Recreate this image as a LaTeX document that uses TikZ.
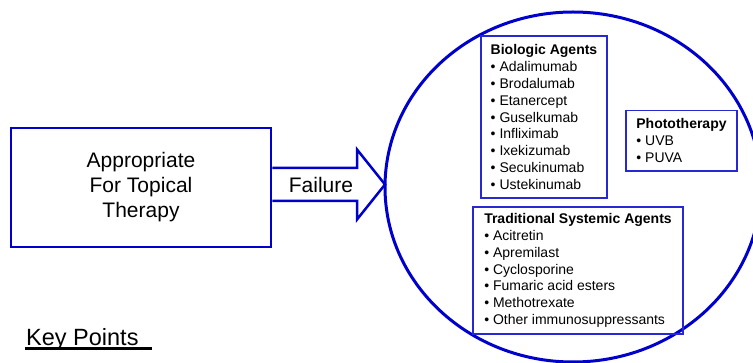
\documentclass[tikz,border=0pt]{standalone}
\usepackage{fontspec}
\setmainfont{Liberation Sans}
\usetikzlibrary{calc}
\definecolor{frameblue}{RGB}{0,0,204}
\definecolor{boxblue}{RGB}{40,40,210}
\begin{document}
\begin{tikzpicture}[x=1pt,y=-1pt,
  bigtext/.style={font=\fontsize{21}{25}\selectfont},
  smalltext/.style={font=\fontsize{14}{16.8}\selectfont},
  startbox/.style={draw=frameblue, line width=2.7pt, minimum width=260pt,
    minimum height=119pt, align=center, inner sep=0pt, bigtext},
  groupbox/.style={draw=boxblue, line width=1.4pt, align=left,
    inner sep=0pt, smalltext},
  blockarrow/.style={draw=frameblue, line width=2.5pt, line join=miter},
]
\path[use as bounding box, clip] (0,0) rectangle (753,363);
\fill[white] (0,0) rectangle (753,363);

% starting condition
\node[startbox] (topical) at (141,187.5) {Appropriate\\For Topical\\Therapy};

% large outline holding the treatment options
\draw[frameblue, line width=3pt] (573,187) ellipse [x radius=188, y radius=175];
\coordinate (tip) at (385,184.5);

% block arrow from the box to the outline
\draw[blockarrow] (topical.east |- 0,168) -- ($(tip)+(-28,-16.5)$)
  -- ($(tip)+(-28,-35)$) -- (tip) -- ($(tip)+(-28,35)$)
  -- ($(tip)+(-28,16.5)$) -- (topical.east |- 0,201);
\node[bigtext] (failure) at (321,185) {Failure};

% treatment groups
\node[groupbox, minimum width=126, minimum height=162] (bio) at (544,117)
  {\textbf{Biologic Agents}\\• Adalimumab\\• Brodalumab\\• Etanercept\\• Guselkumab\\• Infliximab\\• Ixekizumab\\• Secukinumab\\• Ustekinumab};
\node[groupbox, minimum width=111, minimum height=60.5] (photo) at (681.5,140.75)
  {\textbf{Phototherapy}\\• UVB\\• PUVA};
\node[groupbox, minimum width=210, minimum height=127] (trad) at (578,270.5)
  {\textbf{Traditional Systemic Agents}\\• Acitretin\\• Apremilast\\• Cyclosporine\\• Fumaric acid esters\\• Methotrexate\\• Other immunosuppressants};

% heading with underline
\node[anchor=base west, font=\fontsize{23.5}{28}\selectfont, inner sep=0pt] (keypts) at (26,345.5) {Key Points};
\draw[line width=2.2pt] ($(keypts.base west)+(-1,3)$) -- ++(127,0);
\end{tikzpicture}
\end{document}
